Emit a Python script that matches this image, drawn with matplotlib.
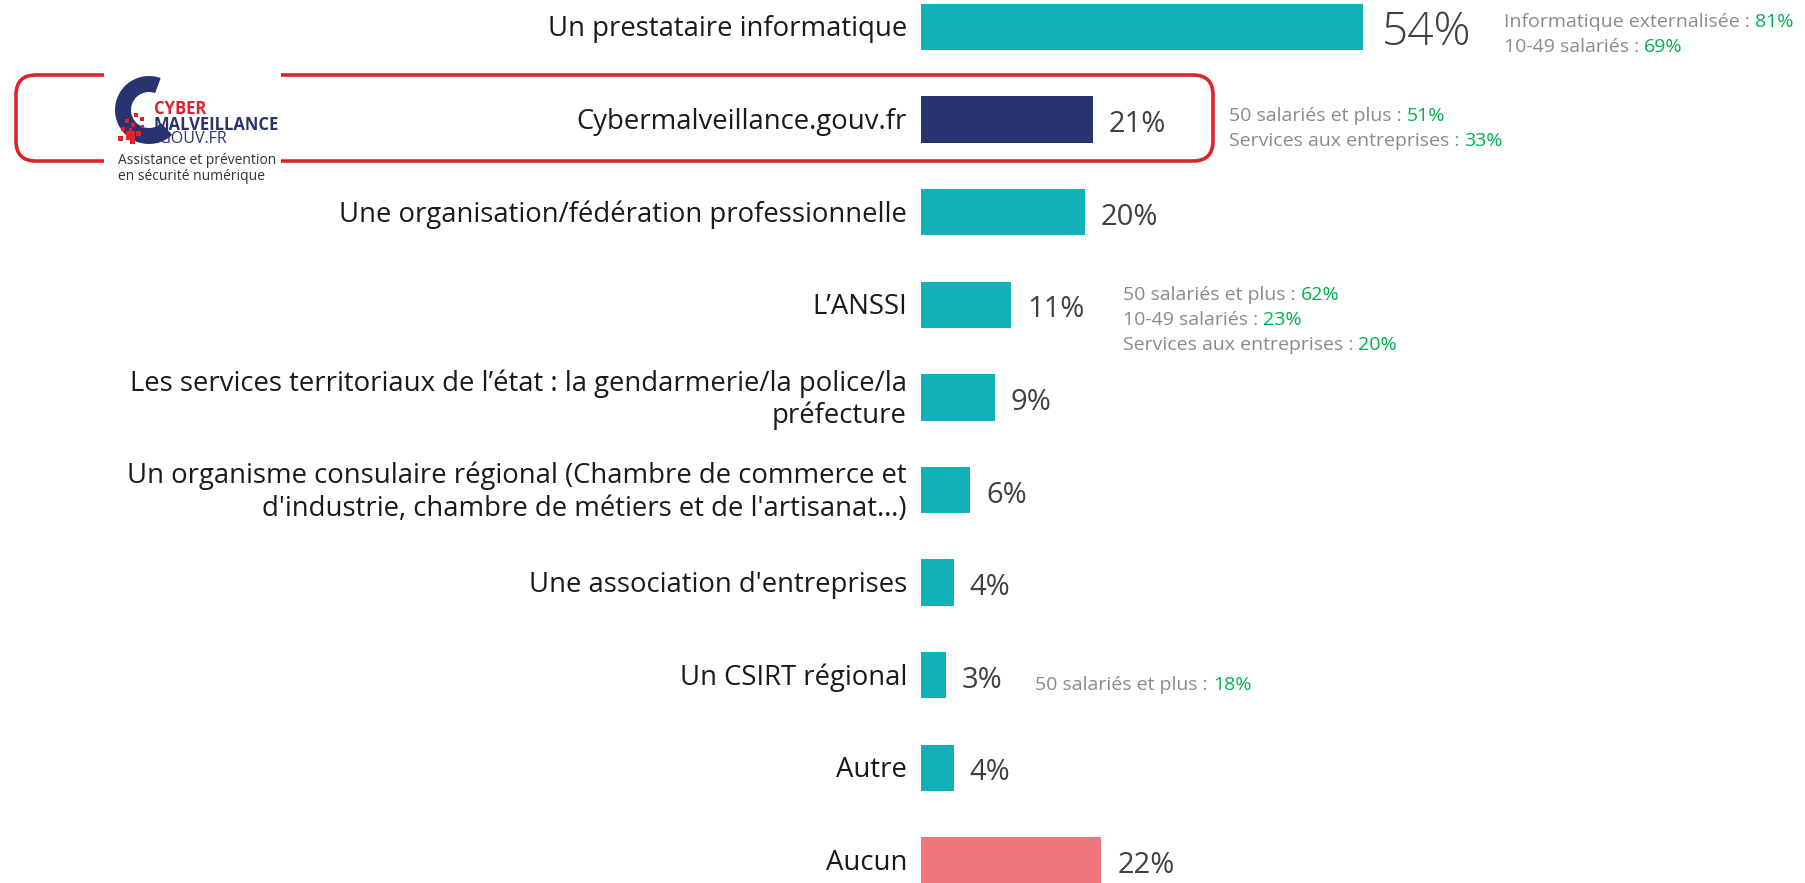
import matplotlib
matplotlib.use("Agg")
import matplotlib.pyplot as plt
from matplotlib.patches import FancyBboxPatch, Rectangle, Wedge

plt.rcParams['font.family'] = ['Open Sans', 'DejaVu Sans']

# Data
categories = [
    "Un prestataire informatique",
    "Cybermalveillance.gouv.fr",
    "Une organisation/fédération professionnelle",
    "L’ANSSI",
    "Les services territoriaux de l’état : la gendarmerie/la police/la\npréfecture",
    "Un organisme consulaire régional (Chambre de commerce et\nd'industrie, chambre de métiers et de l'artisanat…)",
    "Une association d'entreprises",
    "Un CSIRT régional",
    "Autre",
    "Aucun",
]
values = [54, 21, 20, 11, 9, 6, 4, 3, 4, 22]

# side notes: (bar index, [(grey part, green part), ...])
note_bars = [0, 1, 3, 7]
note_lines = [
    [("Informatique externalisée : ", "81%"), ("10-49 salariés : ", "69%")],
    [("50 salariés et plus : ", "51%"), ("Services aux entreprises : ", "33%")],
    [("50 salariés et plus : ", "62%"), ("10-49 salariés : ", "23%"),
     ("Services aux entreprises : ", "20%")],
    [("50 salariés et plus : ", "18%")],
]

TEAL = "#14b0b8"
NAVY = "#29336f"
PINK = "#ef767c"
RED = "#e0222c"
GREY = "#8a8a8a"
GREEN = "#00b050"

bar_colors = [TEAL] * len(values)
bar_colors[1] = NAVY
bar_colors[-1] = PINK

W, H = 1806, 883
fig = plt.figure(figsize=(W / 100, H / 100), dpi=100)
fig.patch.set_facecolor("white")

# layout in pixels
x0 = 921.0        # bar baseline
px_per = 8.19     # pixels per percent
y0 = 27.0         # first bar centre
step = 92.6       # spacing between bars

ax = fig.add_axes([0, 0, 1, 1])
ax.set_xlim(-x0 / px_per, (W - x0) / px_per)
ax.set_ylim((H - y0) / step, -y0 / step)
ax.axis("off")

ypos = list(range(len(values)))
ax.barh(ypos, values, height=0.5, color=bar_colors, zorder=2)

for i, (cat, v) in enumerate(zip(categories, values)):
    ax.text(-14 / px_per, i + 0.025, cat, ha="right", va="center", fontsize=19.8,
            color="#1a1a1a", linespacing=1.2, multialignment="right")
    if i == 0:
        ax.text(v + 19 / px_per, i + 0.07, f"{v}%", ha="left", va="center",
                fontsize=33, color="#404040", fontweight="light")
    else:
        ax.text(v + 16 / px_per, i + 0.055, f"{v}%", ha="left", va="center",
                fontsize=21, color="#404040")

# overlay in pixel coordinates
ov = fig.add_axes([0, 0, 1, 1])
ov.set_xlim(0, W)
ov.set_ylim(H, 0)
ov.axis("off")
ov.patch.set_alpha(0)

note_xy = [(1504, 22), (1229, 116), (1123, 295), (1035, 685)]
line_h = 25
for (nx, ny), lines in zip(note_xy, note_lines):
    for k, (g, p) in enumerate(lines):
        t = ov.text(nx, ny + k * line_h, g, ha="left", va="center",
                    fontsize=14, color=GREY)
        ov.annotate(p, xy=(1, 0.5), xycoords=t, ha="left", va="center",
                    fontsize=14, color=GREEN)

# highlight box
ov.add_patch(FancyBboxPatch((16, 75), 1197, 86,
                            boxstyle="round,pad=0,rounding_size=20",
                            fill=False, ec=RED, lw=2.6, zorder=5))

# logo
ov.add_patch(Rectangle((104, 68), 177, 125, fc="white", ec="none", zorder=6))
ov.add_patch(Wedge((149, 110), 34, 47, 290, width=16, fc=NAVY, ec="none", zorder=7))
squares = [(134, 113, 4), (140, 117, 4), (125, 119, 4), (131, 123, 4),
           (121, 127, 4), (136, 131, 5), (118, 136, 5), (130, 139, 5),
           (126, 131, 9), (129, 128, 3), (141, 125, 3)]
for sx, sy, ss in squares:
    ov.add_patch(Rectangle((sx, sy), ss, ss, fc=RED, ec="none", zorder=8))
ov.text(154, 109, "CYBER", ha="left", va="center", fontsize=12, fontweight="bold",
        color=RED, zorder=9)
ov.text(154, 125, "MALVEILLANCE", ha="left", va="center", fontsize=12,
        fontweight="bold", color=NAVY, zorder=9)
ov.text(156, 139, ".GOUV.FR", ha="left", va="center", fontsize=11.5,
        color=NAVY, zorder=9)
ov.text(118, 161, "Assistance et prévention", ha="left", va="center", fontsize=10,
        color="#333333", zorder=9)
ov.text(118, 176, "en sécurité numérique", ha="left", va="center", fontsize=10,
        color="#333333", zorder=9)

fig.savefig("out.png", dpi=100, facecolor="white")
